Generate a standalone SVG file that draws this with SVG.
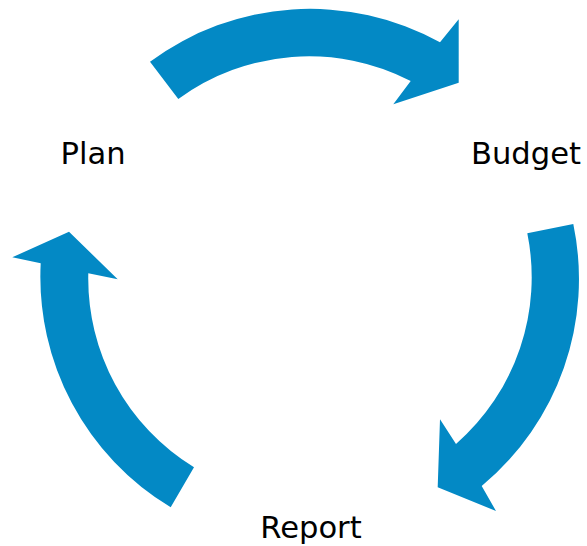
<svg xmlns="http://www.w3.org/2000/svg" width="587" height="546" viewBox="0 0 587 546">
<style>
.arrow{fill:#0389C5;stroke:none}
.lbl{font-family:"DejaVu Sans","Verdana",sans-serif;font-size:30.6px;fill:#000;text-anchor:middle}
</style>
<rect width="587" height="546" fill="#fff"/>
<g id="connectors">
<path id="arrow-plan-budget" class="arrow" d="M150,61.7 A269,269 0 0 1 440,42.3 L458.7,19.3 L458.7,82.7 L393.3,104.3 L410.7,81 A221.5,221.5 0 0 0 178.3,99 Z"/>
<path id="arrow-budget-report" class="arrow" d="M573.3,224 A269,269 0 0 1 481.7,486 L496,511 L437.7,487.3 L440,419.3 L456,444 A221.5,221.5 0 0 0 527.3,233.3 Z"/>
<path id="arrow-report-plan" class="arrow" d="M170.7,507.3 A269,269 0 0 1 40.7,263.3 L12.3,257.3 L69,231.7 L117.7,279.3 L88.3,273.3 A221.5,221.5 0 0 0 194,467.3 Z"/>
</g>
<g id="node-plan"><text class="lbl" x="93" y="163.5">Plan</text></g>
<g id="node-budget"><text class="lbl" x="526" y="163.5">Budget</text></g>
<g id="node-report"><text class="lbl" x="311" y="537.7">Report</text></g>
</svg>
